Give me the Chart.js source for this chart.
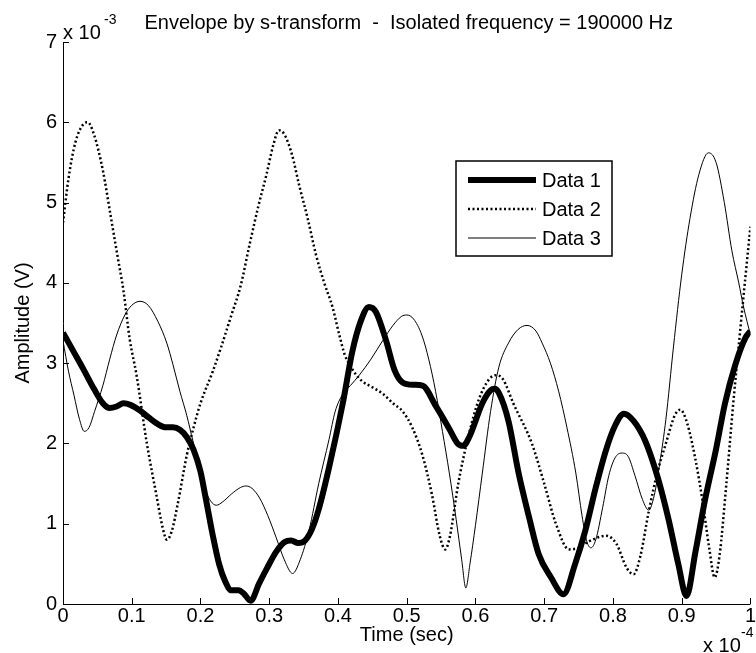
<!DOCTYPE html>
<html>
<head>
<meta charset="utf-8">
<script src="https://cdn.jsdelivr.net/npm/chart.js@4/dist/chart.umd.min.js"></script>
<style>
  html, body { margin: 0; padding: 0; background: #ffffff; }
  #wrap { width: 756px; height: 653px; }
  canvas { display: block; }
</style>
</head>
<body>
<div id="wrap"><canvas id="c" width="756" height="653"></canvas></div>
<script>
// ---- Data (time in units of 1e-4 s, amplitude in units of 1e-3 V) ----
const seriesNames = ["Data 1", "Data 2", "Data 3"];

const data1Time = [0, 0.015, 0.03, 0.045, 0.058, 0.068, 0.078, 0.088, 0.098, 0.112, 0.125, 0.138, 0.15, 0.16, 0.17, 0.18, 0.19, 0.2, 0.208, 0.218, 0.227, 0.236, 0.245, 0.255, 0.263, 0.273, 0.285, 0.297, 0.31, 0.322, 0.332, 0.342, 0.352, 0.362, 0.372, 0.387, 0.407, 0.421, 0.433, 0.445, 0.455, 0.47, 0.482, 0.494, 0.51, 0.523, 0.542, 0.562, 0.574, 0.582, 0.591, 0.61, 0.622, 0.628, 0.634, 0.648, 0.663, 0.678, 0.692, 0.71, 0.728, 0.745, 0.76, 0.775, 0.79, 0.803, 0.816, 0.83, 0.847, 0.865, 0.881, 0.895, 0.907, 0.92, 0.934, 0.95, 0.963, 0.978, 0.993, 1.0];
const data1Amp  = [3.38, 3.15, 2.92, 2.68, 2.5, 2.44, 2.46, 2.5, 2.48, 2.41, 2.32, 2.24, 2.2, 2.2, 2.17, 2.08, 1.92, 1.65, 1.3, 0.85, 0.5, 0.28, 0.17, 0.17, 0.13, 0.04, 0.25, 0.45, 0.65, 0.77, 0.79, 0.76, 0.79, 0.93, 1.18, 1.7, 2.5, 3.15, 3.52, 3.7, 3.64, 3.28, 2.92, 2.76, 2.73, 2.72, 2.47, 2.18, 2.0, 1.97, 2.08, 2.5, 2.66, 2.68, 2.63, 2.28, 1.62, 1.08, 0.62, 0.33, 0.12, 0.5, 0.92, 1.45, 1.92, 2.22, 2.37, 2.28, 2.03, 1.58, 1.05, 0.5, 0.1, 0.65, 1.3, 1.93, 2.5, 2.98, 3.32, 3.4];

const data2Time = [0, 0.008, 0.018, 0.03, 0.036, 0.045, 0.058, 0.07, 0.08, 0.088, 0.097, 0.107, 0.122, 0.136, 0.145, 0.151, 0.158, 0.167, 0.18, 0.19, 0.2, 0.218, 0.23, 0.245, 0.258, 0.272, 0.284, 0.296, 0.306, 0.314, 0.322, 0.333, 0.344, 0.356, 0.368, 0.38, 0.392, 0.402, 0.41, 0.417, 0.426, 0.436, 0.45, 0.465, 0.48, 0.494, 0.508, 0.523, 0.537, 0.548, 0.556, 0.563, 0.575, 0.59, 0.605, 0.62, 0.63, 0.64, 0.655, 0.682, 0.7, 0.717, 0.736, 0.75, 0.765, 0.79, 0.805, 0.82, 0.83, 0.84, 0.852, 0.865, 0.877, 0.89, 0.898, 0.908, 0.92, 0.93, 0.94, 0.948, 0.955, 0.965, 0.975, 0.985, 0.993, 1.0];
const data2Amp  = [4.75, 5.3, 5.75, 5.98, 6.0, 5.85, 5.4, 4.8, 4.3, 3.9, 3.3, 2.85, 2.0, 1.35, 0.95, 0.8, 0.9, 1.25, 1.85, 2.2, 2.5, 2.9, 3.2, 3.6, 3.95, 4.5, 4.95, 5.35, 5.72, 5.9, 5.85, 5.6, 5.2, 4.8, 4.35, 4.0, 3.7, 3.35, 3.1, 2.98, 2.86, 2.77, 2.7, 2.62, 2.5, 2.4, 2.2, 1.85, 1.35, 0.85, 0.68, 0.85, 1.5, 2.1, 2.55, 2.8, 2.85, 2.8, 2.5, 2.0, 1.5, 1.0, 0.68, 0.7, 0.78, 0.85, 0.75, 0.45, 0.37, 0.6, 1.15, 1.65, 2.0, 2.35, 2.42, 2.25, 1.8, 1.3, 0.7, 0.33, 0.6, 1.5, 2.5, 3.4, 4.1, 4.7];

const data3Time = [0, 0.008, 0.016, 0.024, 0.031, 0.038, 0.046, 0.058, 0.068, 0.078, 0.09, 0.1, 0.112, 0.124, 0.138, 0.151, 0.16, 0.17, 0.18, 0.189, 0.2, 0.208, 0.215, 0.223, 0.232, 0.245, 0.258, 0.266, 0.275, 0.286, 0.298, 0.31, 0.322, 0.334, 0.345, 0.358, 0.372, 0.387, 0.396, 0.406, 0.418, 0.431, 0.448, 0.465, 0.48, 0.492, 0.5, 0.51, 0.522, 0.532, 0.542, 0.552, 0.562, 0.572, 0.58, 0.586, 0.592, 0.6, 0.61, 0.622, 0.634, 0.648, 0.662, 0.675, 0.688, 0.697, 0.709, 0.721, 0.733, 0.746, 0.755, 0.762, 0.768, 0.775, 0.785, 0.794, 0.803, 0.813, 0.822, 0.832, 0.843, 0.852, 0.86, 0.868, 0.877, 0.888, 0.9, 0.912, 0.925, 0.939, 0.95, 0.962, 0.973, 0.983, 0.99, 1.0];
const data3Amp  = [3.28, 2.9, 2.6, 2.3, 2.15, 2.2, 2.4, 2.72, 3.05, 3.35, 3.6, 3.72, 3.77, 3.72, 3.52, 3.25, 2.98, 2.65, 2.35, 2.03, 1.65, 1.4, 1.28, 1.23, 1.27, 1.37, 1.45, 1.47, 1.44, 1.32, 1.1, 0.83, 0.55, 0.38, 0.55, 0.92, 1.5, 2.05, 2.4, 2.6, 2.72, 2.85, 3.05, 3.28, 3.47, 3.58, 3.6, 3.55, 3.35, 3.05, 2.65, 2.15, 1.63, 1.05, 0.55, 0.2, 0.5, 0.98, 1.63, 2.4, 2.95, 3.25, 3.42, 3.47, 3.4, 3.25, 3.0, 2.65, 2.2, 1.63, 1.1, 0.78, 0.7, 0.8, 1.2, 1.6, 1.82, 1.88, 1.84, 1.6, 1.3, 1.17, 1.35, 1.75, 2.3, 3.2, 4.1, 4.8, 5.35, 5.62, 5.5, 5.0, 4.4, 4.0, 3.7, 3.35];

const xTickValues = [0, 0.1, 0.2, 0.3, 0.4, 0.5, 0.6, 0.7, 0.8, 0.9, 1];
const yTickValues = [0, 1, 2, 3, 4, 5, 6, 7];

const chartTitle = "Envelope by s-transform  -  Isolated frequency = 190000 Hz";
const xTitle = "Time (sec)";
const yTitle = "Amplitude (V)";
const xExponent = "-4";
const yExponent = "-3";

// ---- build ----
function pts(xs, ys) { return xs.map((x, i) => ({ x: x, y: ys[i] })); }

const FONT = '"Liberation Sans", Arial, sans-serif';
const FS = 20;

const styles = [
  { borderWidth: 6, borderDash: [] },
  { borderWidth: 2.5, borderDash: [2, 2.5] },
  { borderWidth: 1, borderDash: [] }
];
const allX = [data1Time, data2Time, data3Time];
const allY = [data1Amp, data2Amp, data3Amp];

const datasets = seriesNames.map((name, i) => ({
  label: name,
  data: pts(allX[i], allY[i]),
  borderColor: '#000000',
  backgroundColor: '#000000',
  borderWidth: styles[i].borderWidth,
  borderDash: styles[i].borderDash,
  borderCapStyle: 'butt',
  borderJoinStyle: 'round',
  showLine: true,
  pointRadius: 0,
  pointHoverRadius: 0,
  cubicInterpolationMode: 'monotone',
  fill: false
}));

const decorPlugin = {
  id: 'decor',
  afterDraw(chart) {
    const ctx = chart.ctx;
    const a = chart.chartArea;
    const xs = chart.scales.x, ys = chart.scales.y;
    ctx.save();
    ctx.strokeStyle = '#000';
    ctx.fillStyle = '#000';
    ctx.lineWidth = 1;
    // axis lines
    ctx.beginPath();
    ctx.moveTo(a.left + 0.5, a.top);
    ctx.lineTo(a.left + 0.5, a.bottom + 0.5);
    ctx.lineTo(a.right, a.bottom + 0.5);
    ctx.stroke();
    // inward ticks
    const TL = 6;
    ctx.beginPath();
    xTickValues.forEach(v => {
      const px = Math.round(xs.getPixelForValue(v)) + 0.5;
      ctx.moveTo(px, a.bottom);
      ctx.lineTo(px, a.bottom - TL);
    });
    yTickValues.forEach(v => {
      const py = Math.round(ys.getPixelForValue(v)) + 0.5;
      ctx.moveTo(a.left, py);
      ctx.lineTo(a.left + TL, py);
    });
    ctx.stroke();

    // title
    ctx.font = FS + 'px ' + FONT;
    ctx.textBaseline = 'alphabetic';
    ctx.textAlign = 'center';
    ctx.fillText(chartTitle, (a.left + a.right) / 2 + 2, 29);
    // y exponent
    ctx.textAlign = 'left';
    ctx.fillText('x 10', a.left, 39);
    ctx.font = '14px ' + FONT;
    ctx.fillText(yExponent, a.left + 41, 24);
    // x title
    ctx.font = FS + 'px ' + FONT;
    ctx.textAlign = 'center';
    ctx.fillText(xTitle, (a.left + a.right) / 2, 641);
    // x exponent
    ctx.textAlign = 'left';
    ctx.fillText('x 10', 703, 652);
    ctx.font = '14px ' + FONT;
    ctx.fillText(xExponent, 741, 637);
    // y title
    ctx.font = FS + 'px ' + FONT;
    ctx.save();
    ctx.translate(29, (a.top + a.bottom) / 2);
    ctx.rotate(-Math.PI / 2);
    ctx.textAlign = 'center';
    ctx.fillText(yTitle, 0, 0);
    ctx.restore();

    // legend
    const bx = 456, by = 161, bw = 156, bh = 95;
    ctx.fillStyle = '#fff';
    ctx.fillRect(bx, by, bw, bh);
    ctx.lineWidth = 1.5;
    ctx.strokeStyle = '#000';
    ctx.strokeRect(bx, by, bw, bh);
    chart.data.datasets.forEach((ds, i) => {
      const ry = by + 19 + i * 29;
      ctx.beginPath();
      ctx.lineWidth = ds.borderWidth;
      ctx.setLineDash(ds.borderDash || []);
      ctx.lineCap = 'butt';
      ctx.moveTo(bx + 12, ry);
      ctx.lineTo(bx + 80, ry);
      ctx.stroke();
      ctx.setLineDash([]);
      ctx.fillStyle = '#000';
      ctx.font = FS + 'px ' + FONT;
      ctx.textAlign = 'left';
      ctx.textBaseline = 'middle';
      ctx.fillText(ds.label, bx + 86, ry + 1);
    });
    ctx.restore();
  }
};

const bgPlugin = {
  id: 'bg',
  beforeDraw(chart) {
    const ctx = chart.ctx;
    ctx.save();
    ctx.fillStyle = '#fff';
    ctx.fillRect(0, 0, chart.width, chart.height);
    ctx.restore();
  }
};

new Chart(document.getElementById('c'), {
  type: 'scatter',
  data: { datasets: datasets },
  options: {
    responsive: false,
    animation: false,
    devicePixelRatio: 1,
    layout: { padding: { top: 42, right: 4, left: 0, bottom: 0 } },
    plugins: { legend: { display: false }, title: { display: false }, tooltip: { enabled: false } },
    events: [],
    scales: {
      x: {
        type: 'linear', min: 0, max: 1,
        afterFit(s) { s.height = 49; },
        afterBuildTicks(s) { s.ticks = xTickValues.map(v => ({ value: v })); },
        ticks: {
          color: '#000', padding: 0,
          font: { family: FONT, size: FS },
          callback: v => String(Number(v.toFixed(1)))
        },
        grid: { display: false, drawTicks: false },
        border: { display: false }
      },
      y: {
        type: 'linear', min: 0, max: 7,
        afterFit(s) { s.width = 63; },
        afterBuildTicks(s) { s.ticks = yTickValues.map(v => ({ value: v })); },
        ticks: {
          color: '#000', padding: 6,
          font: { family: FONT, size: FS },
          callback: v => String(v)
        },
        grid: { display: false, drawTicks: false },
        border: { display: false }
      }
    }
  },
  plugins: [bgPlugin, decorPlugin]
});
</script>
</body>
</html>
